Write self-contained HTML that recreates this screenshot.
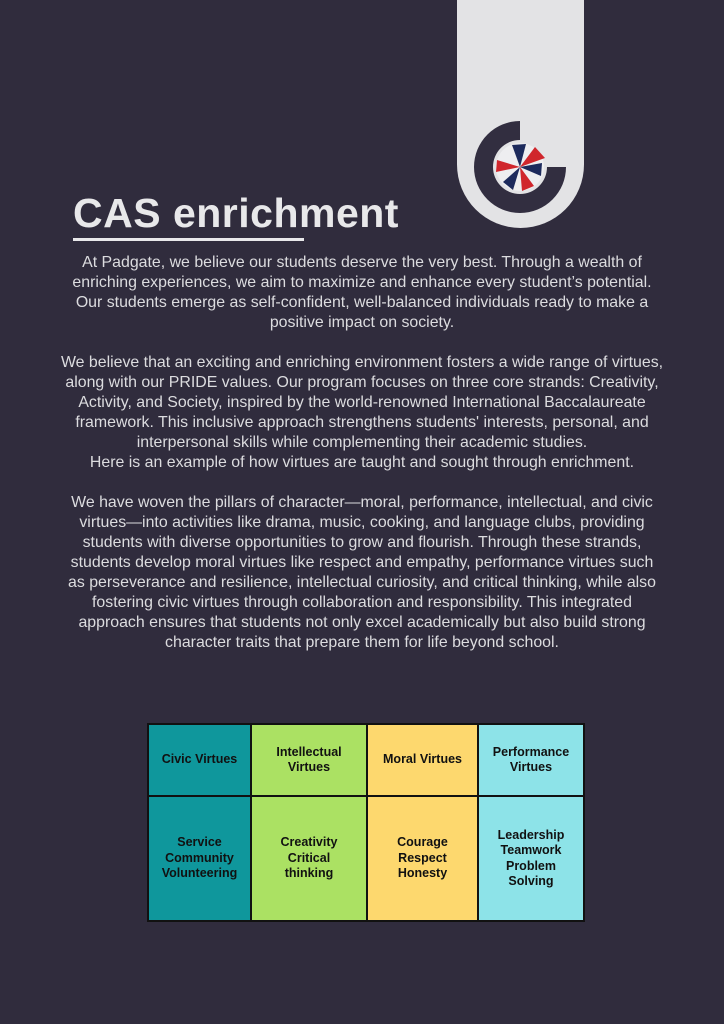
<!DOCTYPE html>
<html><head><meta charset="utf-8"><style>
html,body{margin:0;padding:0}
body{width:724px;height:1024px;background:#302c3d;position:relative;overflow:hidden;font-family:"Liberation Sans",sans-serif}
.pill{position:absolute;left:457px;top:-70px;width:127px;height:298px;background:#e3e3e5;border-radius:0 0 64px 64px}
h1{position:absolute;left:73px;top:189px;margin:0;font-size:41px;font-weight:bold;color:#e8e8ea;line-height:48px;letter-spacing:0.5px}
.ul{position:absolute;left:73px;top:238px;width:231px;height:3px;background:#e8e8ea}
.txt{position:absolute;left:0;width:724px;text-align:center;color:#dcdcdf;font-size:15.9px;line-height:20px}
table{position:absolute;left:147px;top:723px;border-collapse:collapse;border:2px solid #111}
td{border:2px solid #111;text-align:center;font-weight:bold;font-size:12.5px;line-height:15.5px;color:#111;padding:0}
.r1 td{height:70px}.r2 td{height:123px}
.c1{background:#0f979c;width:101px}.c2{background:#abe163;width:114px}.c3{background:#fdd86e;width:109px}.c4{background:#8de3e8;width:104px}
</style></head><body>
<div class="pill"></div>
<svg style="position:absolute;left:0;top:0" width="724" height="1024">
<path d="M520 121 A46 46 0 1 0 566 167 L547 167 A27 27 0 1 1 520 140 Z" fill="#322e40"/>
<circle cx="520" cy="167" r="24" fill="#eeeef0"/>
<path d="M520 167 L512 145 L526 144 Z" fill="#1d2a5c"/>
<path d="M520 167 L535 147 L545 158 Z" fill="#d0262c"/>
<path d="M520 167 L542 163 L541 176 Z" fill="#1d2a5c"/>
<path d="M520 167 L534 186 L522 191 Z" fill="#d0262c"/>
<path d="M520 167 L513 190 L503 182 Z" fill="#1d2a5c"/>
<path d="M520 167 L496 172 L497 160 Z" fill="#d0262c"/>
</svg>
<h1>CAS enrichment</h1>
<div class="ul"></div>
<div class="txt" style="top:253px">At Padgate, we believe our students deserve the very best. Through a wealth of<br>enriching experiences, we aim to maximize and enhance every student’s potential.<br>Our students emerge as self-confident, well-balanced individuals ready to make a<br>positive impact on society.</div>
<div class="txt" style="top:353px">We believe that an exciting and enriching environment fosters a wide range of virtues,<br>along with our PRIDE values. Our program focuses on three core strands: Creativity,<br>Activity, and Society, inspired by the world-renowned International Baccalaureate<br>framework. This inclusive approach strengthens students' interests, personal, and<br>interpersonal skills while complementing their academic studies.<br>Here is an example of how virtues are taught and sought through enrichment.</div>
<div class="txt" style="top:493px">We have woven the pillars of character—moral, performance, intellectual, and civic<br>virtues—into activities like drama, music, cooking, and language clubs, providing<br>students with diverse opportunities to grow and flourish. Through these strands,<br>students develop moral virtues like respect and empathy, performance virtues such<br>as perseverance and resilience, intellectual curiosity, and critical thinking, while also<br>fostering civic virtues through collaboration and responsibility. This integrated<br>approach ensures that students not only excel academically but also build strong<br>character traits that prepare them for life beyond school.</div>
<table>
<tr class="r1"><td class="c1">Civic Virtues</td><td class="c2">Intellectual<br>Virtues</td><td class="c3">Moral Virtues</td><td class="c4">Performance<br>Virtues</td></tr>
<tr class="r2"><td class="c1">Service<br>Community<br>Volunteering</td><td class="c2">Creativity<br>Critical<br>thinking</td><td class="c3">Courage<br>Respect<br>Honesty</td><td class="c4">Leadership<br>Teamwork<br>Problem<br>Solving</td></tr>
</table>
</body></html>
